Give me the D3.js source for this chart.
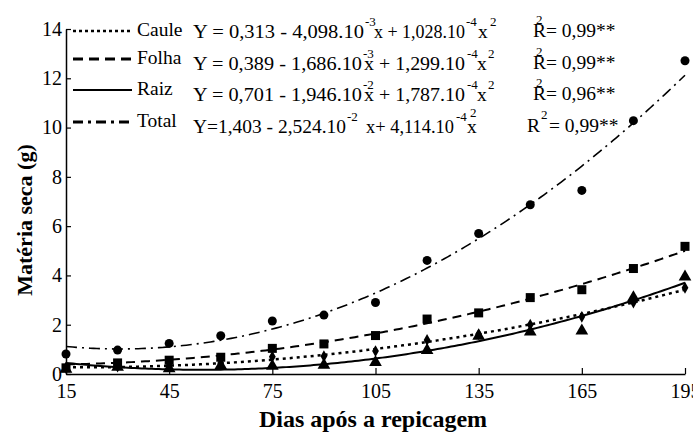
<!DOCTYPE html>
<html>
<head>
<meta charset="utf-8">
<script src="https://cdn.jsdelivr.net/npm/d3@7"></script>
</head>
<body style="margin:0">
<div id="chart"></div>
<script>
// dados
const days = [15, 30, 45, 60, 75, 90, 105, 120, 135, 150, 165, 180, 195];
const caule = [0.25, 0.30, 0.35, 0.45, 0.70, 0.72, 0.93, 1.38, 1.62, 2.00, 2.32, 2.90, 3.50];
const folha = [0.25, 0.45, 0.56, 0.68, 1.04, 1.22, 1.56, 2.23, 2.48, 3.10, 3.42, 4.28, 5.18];
const raiz = [0.20, 0.28, 0.22, 0.34, 0.32, 0.36, 0.47, 0.96, 1.54, 1.71, 1.75, 3.10, 3.94];
const total = [0.81, 0.97, 1.24, 1.55, 2.15, 2.39, 2.90, 4.61, 5.70, 6.87, 7.45, 10.28, 12.71];

// coeficientes das equacoes mostradas na legenda
const coefCaule = [0.313, -4.098e-3, 1.028e-4];
const coefFolha = [0.389, -1.686e-3, 1.299e-4];
const coefRaiz = [0.701, -1.946e-2, 1.787e-4];
const coefTotal = [1.403, -2.524e-2, 4.114e-4];

const xTicks = [15, 45, 75, 105, 135, 165, 195];
const yTicks = [0, 2, 4, 6, 8, 10, 12, 14];
const seriesNames = ["Caule", "Folha", "Raiz", "Total"];
const r2Labels = ["= 0,99**", "= 0,99**", "= 0,96**", "= 0,99**"];

const FONT = "Liberation Serif";
const width = 693, height = 432;

const svg = d3.select("#chart").append("svg")
    .attr("width", width)
    .attr("height", height);

function addText(parent, str, size) {
  return parent.append("text")
      .attr("font-family", FONT)
      .attr("font-size", size)
      .text(str);
}

const x = d3.scaleLinear().domain([15, 195]).range([66, 685]);
const y = d3.scaleLinear().domain([0, 14]).range([374, 29]);

const xAxis = d3.axisBottom(x).tickValues(xTicks).tickSize(-6).tickSizeOuter(0).tickPadding(10);
const yAxis = d3.axisLeft(y).tickValues(yTicks).tickSize(-5).tickSizeOuter(0).tickPadding(4);

const gx = svg.append("g")
    .attr("transform", "translate(0," + y(0) + ")")
    .call(xAxis);
const gy = svg.append("g")
    .attr("transform", "translate(" + x(15) + ",0)")
    .call(yAxis);

[gx, gy].forEach(g => {
  g.attr("font-family", FONT).attr("font-size", 20);
  g.select(".domain").attr("stroke", "#000").attr("stroke-width", 1.5);
  g.selectAll(".tick line").attr("stroke", "#000").attr("stroke-width", 1.2);
  g.selectAll(".tick text").attr("fill", "#000");
});

// titulos dos eixos
addText(svg, "Dias após a repicagem", 24)
    .attr("x", 373)
    .attr("y", 427)
    .attr("text-anchor", "middle")
    .attr("font-weight", "bold");

addText(svg, "Matéria seca (g)", 22)
    .attr("transform", "translate(32,220) rotate(-90)")
    .attr("text-anchor", "middle")
    .attr("font-weight", "bold");

// curvas ajustadas
const styles = [
  { dash: "3,4", width: 2.5 },
  { dash: "9,6", width: 2 },
  { dash: null, width: 2 },
  { dash: "11,5,2,5", width: 1.6 }
];
const coefs = [coefCaule, coefFolha, coefRaiz, coefTotal];
const xs = d3.range(15, 195.5, 1);

const line = d3.line()
    .x(d => x(d[0]))
    .y(d => y(d[1]));

coefs.forEach((c, i) => {
  const pts = xs.map(v => [v, c[0] + c[1] * v + c[2] * v * v]);
  svg.append("path")
      .datum(pts)
      .attr("d", line)
      .attr("fill", "none")
      .attr("stroke", "#000")
      .attr("stroke-width", styles[i].width)
      .attr("stroke-dasharray", styles[i].dash);
});

// pontos observados
const pts = (arr) => days.map((d, i) => [d, arr[i]]);

svg.append("g").selectAll("path")
    .data(pts(raiz))
    .join("path")
    .attr("transform", d => "translate(" + x(d[0]) + "," + y(d[1]) + ")")
    .attr("d", d3.symbol(d3.symbolTriangle, 70));

svg.append("g").selectAll("path")
    .data(pts(caule))
    .join("path")
    .attr("transform", d => "translate(" + x(d[0]) + "," + y(d[1]) + ")")
    .attr("d", d3.symbol(d3.symbolDiamond, 40));

svg.append("g").selectAll("rect")
    .data(pts(folha))
    .join("rect")
    .attr("x", d => x(d[0]) - 4.5)
    .attr("y", d => y(d[1]) - 4.5)
    .attr("width", 9)
    .attr("height", 9);

svg.append("g").selectAll("circle")
    .data(pts(total))
    .join("circle")
    .attr("cx", d => x(d[0]))
    .attr("cy", d => y(d[1]))
    .attr("r", 4.5);

// legenda
const legLineY = [31, 59, 90, 122];
const legStyles = [
  { dash: "3,3", width: 2.5 },
  { dash: "10,6", width: 3 },
  { dash: null, width: 2 },
  { dash: "10,5,3,5", width: 3 }
];
seriesNames.forEach((name, i) => {
  svg.append("line")
      .attr("x1", 73).attr("x2", 132)
      .attr("y1", legLineY[i]).attr("y2", legLineY[i])
      .attr("stroke", "#000")
      .attr("stroke-width", legStyles[i].width)
      .attr("stroke-dasharray", legStyles[i].dash);
  addText(svg, name, 19.5)
      .attr("x", 137)
      .attr("y", legLineY[i] + 5);
});

// equacoes: [texto, expoente?, x, largura, deslocamento do expoente]
const eqBase = [38, 70, 101, 133];
const equations = [
  [["Y = 0,313 - 4,098.10", 0, 193, 171], ["-3", 1, 365], ["x + 1,028.10", 0, 374, 91], ["-4", 1, 466], ["x", 0, 478], ["2", 1, 490]],
  [["Y = 0,389 - 1,686.10", 0, 193, 169], ["-3", 1, 363], ["x + 1,299.10", 0, 364, 101], ["-4", 1, 467], ["x", 0, 477], ["2", 1, 488]],
  [["Y = 0,701 - 1,946.10", 0, 193, 169], ["-2", 1, 363], ["x + 1,787.10", 0, 364, 101], ["-4", 1, 467], ["x", 0, 477], ["2", 1, 488]],
  [["Y=1,403 - 2,524.10", 0, 193, 153], ["-2", 1, 347], ["x+ 4,114.10", 0, 366, 88], ["-4", 1, 456], ["x", 0, 467], ["2", 1, 470, null, -16]]
];
equations.forEach((segs, i) => {
  segs.forEach(s => {
    const t = addText(svg, s[0], s[1] ? 13 : 19.5)
        .attr("x", s[2])
        .attr("y", eqBase[i] + (s[1] ? (s[4] || -12) : 0));
    if (s[3]) t.attr("textLength", s[3]).attr("lengthAdjust", "spacingAndGlyphs");
  });
});

// R2
const rX = [533, 533, 533, 527];
const r2X = [536, 536, 536, 541];
r2Labels.forEach((lab, i) => {
  addText(svg, "R", 19.5)
      .attr("x", rX[i])
      .attr("y", eqBase[i] - 1);
  addText(svg, "2", 13)
      .attr("x", r2X[i])
      .attr("y", eqBase[i] - 14);
  addText(svg, lab, 19.5)
      .attr("x", i === 3 ? 549 : 546)
      .attr("y", eqBase[i] - 1);
});
</script>
</body>
</html>
